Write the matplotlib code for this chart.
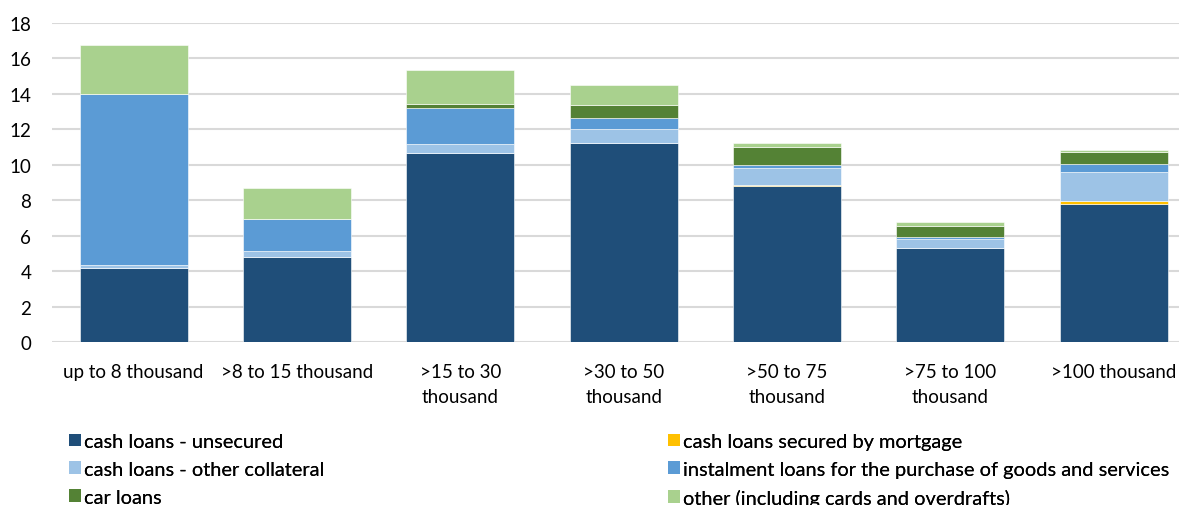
import matplotlib.pyplot as plt
from matplotlib.patches import Patch

plt.rcParams['font.family'] = ['Lato', 'DejaVu Sans']

categories = ['up to 8 thousand', '>8 to 15 thousand', '>15 to 30\nthousand',
              '>30 to 50\nthousand', '>50 to 75\nthousand', '>75 to 100\nthousand',
              '>100 thousand']

unsecured = [4.18, 4.80, 10.67, 11.21, 8.80, 5.30, 7.79]
mortgage = [0.0, 0.0, 0.0, 0.0, 0.04, 0.0, 0.19]
collateral = [0.15, 0.32, 0.53, 0.79, 0.96, 0.51, 1.64]
instalment = [9.65, 1.80, 1.99, 0.66, 0.21, 0.12, 0.45]
car = [0.0, 0.0, 0.22, 0.70, 0.97, 0.64, 0.64]
other = [2.76, 1.77, 1.94, 1.14, 0.27, 0.19, 0.15]

series = [
    ('cash loans - unsecured', unsecured, '#1F4E79'),
    ('cash loans secured by mortgage', mortgage, '#FFC000'),
    ('cash loans - other collateral', collateral, '#9DC3E6'),
    ('instalment loans for the purchase of goods and services', instalment, '#5B9BD5'),
    ('car loans', car, '#548235'),
    ('other (including cards and overdrafts)', other, '#A9D18E'),
]

fig = plt.figure(figsize=(11.79, 5.06), dpi=100)
ax = fig.add_axes([52 / 1179, 1 - 343 / 506, 1 - 52 / 1179, 319 / 506])

x = list(range(len(categories)))
bottom = [0.0] * len(categories)
handles = {}
for name, vals, col in series:
    ax.bar(x, vals, width=0.66, bottom=bottom, color=col, edgecolor='white',
           linewidth=0.4, zorder=3)
    bottom = [b + v for b, v in zip(bottom, vals)]
    handles[name] = Patch(facecolor=col, label=name)

ax.set_ylim(0, 18)
ax.set_yticks(range(0, 19, 2))
ax.set_xlim(-0.5, 6.4)
ax.set_xticks(x)
ax.set_xticklabels(categories, fontsize=13.5, linespacing=1.6)
ax.tick_params(axis='y', labelsize=13.5, length=0, pad=15)
ax.tick_params(axis='x', length=0, pad=15)
ax.grid(axis='y', color='#D9D9D9', linewidth=1.5, zorder=0)
for s in ax.spines.values():
    s.set_visible(False)

col1 = ['cash loans - unsecured', 'cash loans - other collateral', 'car loans']
col2 = ['cash loans secured by mortgage',
        'instalment loans for the purchase of goods and services',
        'other (including cards and overdrafts)']
for names, xpos in [(col1, 69), (col2, 668)]:
    leg = fig.legend([handles[n] for n in names], names, loc='upper left',
                     bbox_to_anchor=(xpos / 1179, 1 - 434 / 506), frameon=False,
                     fontsize=14.4, handlelength=0.6, handleheight=0.6,
                     handletextpad=0.15, labelspacing=0.54, borderaxespad=0,
                     borderpad=0)
    fig.add_artist(leg)

fig.savefig('out.png', dpi=100)
